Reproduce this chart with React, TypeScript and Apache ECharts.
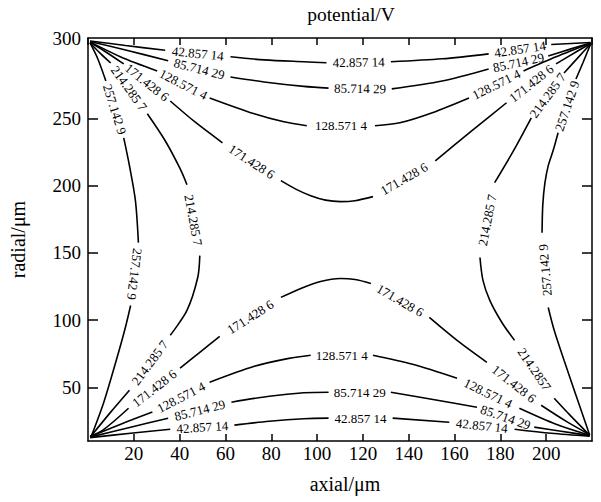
import React, { useEffect, useRef } from "react";
import * as echarts from "echarts";

// contour levels (V) and their printed labels
const LEVELS = [42.85714, 85.71429, 128.5714, 171.4286, 214.2857, 257.1429];
const LEVEL_LABELS = ["42.857 14", "85.714 29", "128.571 4", "171.428 6", "214.285 7", "257.142 9"];

// x tick labels / y tick labels
const X_TICKS = [20, 40, 60, 80, 100, 120, 140, 160, 180, 200];
const Y_TICKS = [50, 100, 150, 200, 250];

type P = [number, number] | null; // null = gap where a level label sits

const c043Top: P[] = [[0.9, 307.8], [16.4, 304.4], [33.7, 300.9], null, [62.2, 296.0], [76.9, 293.7], [94.2, 292.3], [104.1, 291.6], null, [132.2, 292.3], [154.6, 294.5], [174.9, 298.2], null, [202.2, 305.2], [219.4, 306.7]];
const c043Bottom: P[] = [[0.9, 12.5], [18.6, 15.8], [35.9, 18.8], null, [63.9, 21.8], [79.1, 24.7], [94.2, 26.6], [105.0, 27.0], null, [133.0, 27.0], [157.7, 24.0], null, [186.2, 18.8], [202.2, 15.8], [219.0, 13.6]];
const c086Top: P[] = [[0.9, 307.4], [16.4, 301.1], [35.0, 293.0], null, [62.2, 281.0], [76.9, 277.3], [94.2, 274.0], [105.0, 272.7], null, [132.6, 272.1], [154.6, 278.0], [174.9, 287.0], null, [200.9, 296.6], [210.8, 301.9], [219.4, 306.3]];
const c086Bottom: P[] = [[0.9, 12.9], [18.6, 20.3], [35.0, 27.0], null, [62.6, 38.9], [79.1, 43.3], [94.2, 45.9], [105.0, 46.3], null, [132.2, 46.3], [152.5, 40.3], [169.8, 35.1], null, [194.8, 20.3], [206.5, 17.3], [219.0, 14.0]];
const c129Top: P[] = [[0.9, 307.1], [14.3, 295.9], [30.2, 285.5], null, [53.1, 265.4], [72.6, 253.6], [85.5, 247.6], [95.5, 244.7], null, [125.3, 244.7], [136.1, 246.9], [150.3, 254.4], [166.3, 265.4], null, [190.1, 285.5], [204.3, 296.0], [219.4, 306.3]];
const c129Bottom: P[] = [[0.9, 13.2], [14.3, 22.5], [28.1, 31.5], null, [53.1, 53.7], [72.6, 65.6], [87.7, 71.5], [97.2, 73.8], null, [124.4, 73.8], [141.7, 67.1], [161.1, 56.7], null, [188.3, 34.4], [204.3, 22.5], [219.0, 14.3]];
const c171Top: P[] = [[0.9, 306.8], [7.8, 299.6], [15.6, 290.7], null, [35.9, 263.1], [46.7, 247.5], [58.7, 232.0], null, [84.2, 203.8], [90.7, 197.5], [97.2, 192.6], [103.7, 189.3], [110.2, 188.2], [116.6, 188.9], [124.4, 191.9], null, [151.6, 218.6], [167.6, 241.0], [182.7, 261.8], null, [204.3, 290.7], [213.0, 299.6], [219.4, 305.9]];
const c171Bottom: P[] = [[0.9, 13.6], [6.5, 18.1], [17.7, 34.4], null, [40.2, 64.2], [48.8, 76.0], [57.5, 87.9], null, [84.2, 116.9], [92.9, 123.6], [101.5, 128.8], [110.2, 131.0], [116.6, 130.2], [123.5, 127.3], null, [149.0, 102.0], [161.1, 84.9], [174.1, 68.6], null, [197.8, 36.6], [208.6, 24.8], [219.0, 14.7]];
const c214Left: P[] = [[0.9, 306.3], [5.6, 298.2], [9.9, 291.4], null, [25.9, 253.6], [33.7, 233.5], [40.2, 212.7], [43.2, 200.8], null, [48.8, 148.0], [47.9, 131.7], [43.2, 107.2], [35.9, 88.7], null, [18.1, 47.8], [9.9, 31.5], [1.3, 13.6]];
const c214Right: P[] = [[219.0, 14.3], [210.8, 28.5], [203.5, 41.8], null, [186.2, 84.9], [180.6, 98.4], [175.4, 114.7], [172.4, 129.6], [171.1, 146.6], null, [177.5, 202.3], [185.7, 226.0], [193.5, 250.6], null, [207.8, 284.0], [213.8, 295.2], [219.4, 305.6]];
const c257Left: P[] = [[0.9, 306.3], [4.3, 294.4], [7.8, 278.0], null, [15.6, 235.7], [18.1, 214.9], [20.7, 188.9], [22.0, 157.7], null, [18.6, 110.9], [16.0, 92.4], [12.1, 68.6], [6.9, 38.9], [1.3, 12.9]];
const c257Right: P[] = [[219.0, 14.3], [213.0, 44.1], [207.8, 70.1], [203.5, 92.4], [200.9, 109.4], null, [198.2, 165.1], [198.5, 185.2], [199.4, 201.6], [200.9, 215.0], [203.0, 226.0], [205.2, 239.5], null, [213.0, 279.5], [216.0, 291.4], [219.4, 305.6]];

// the one label printed without the digit-group space
const c214RightLabels = ["214.2857", "214.285 7", "214.285 7"];

const BRANCHES: { level: number; pts: P[]; labels?: string[] }[] = [
  { level: 0, pts: c043Top }, { level: 0, pts: c043Bottom },
  { level: 1, pts: c086Top }, { level: 1, pts: c086Bottom },
  { level: 2, pts: c129Top }, { level: 2, pts: c129Bottom },
  { level: 3, pts: c171Top }, { level: 3, pts: c171Bottom },
  { level: 4, pts: c214Left }, { level: 4, pts: c214Right, labels: c214RightLabels },
  { level: 5, pts: c257Left }, { level: 5, pts: c257Right },
];

const FONT = "'Liberation Serif', 'Times New Roman', serif";

export default function App() {
  const ref = useRef<HTMLDivElement>(null);
  useEffect(() => {
    const chart = echarts.init(ref.current!, null, { renderer: "svg" });
    const axisLine = { show: true, onZero: false, lineStyle: { color: "#000", width: 1.5 } };
    const tickStyle = { color: "#000", width: 1.5 };
    const series = BRANCHES.map((b) => ({
      type: "line",
      name: LEVEL_LABELS[b.level],
      xAxisIndex: 0,
      yAxisIndex: 0,
      data: b.pts.map((p) => (p ? p : ["-", "-"])),
      showSymbol: false,
      symbol: "none",
      connectNulls: false,
      smooth: 0.3,
      silent: true,
      lineStyle: { color: "#000", width: 1.6 },
    }));
    chart.setOption({
      animation: false,
      backgroundColor: "#fff",
      grid: { left: 82, right: 9, top: 38, bottom: 61 },
      xAxis: [
        {
          type: "value", min: 0, max: 220, interval: 20, position: "bottom",
          name: "axial/μm", nameLocation: "middle", nameGap: 33,
          nameTextStyle: { fontFamily: FONT, fontSize: 20, color: "#000", padding: [0, 0, 0, 10] },
          axisLine, axisTick: { inside: true, length: 7, lineStyle: tickStyle },
          axisLabel: {
            fontFamily: FONT, fontSize: 19, color: "#000", margin: 3,
            showMinLabel: false, showMaxLabel: false,
            formatter: (v: number) => (X_TICKS.includes(v) ? String(v) : ""),
          },
          splitLine: { show: false },
        },
        {
          type: "value", min: 0, max: 220, interval: 20, position: "top",
          axisLine, axisTick: { inside: true, length: 7, lineStyle: tickStyle },
          axisLabel: { show: false }, splitLine: { show: false },
        },
      ],
      yAxis: [
        {
          type: "value", min: 10, max: 310, position: "left",
          name: "radial/μm", nameLocation: "middle", nameGap: 60, nameRotate: 90,
          nameTextStyle: { fontFamily: FONT, fontSize: 20, color: "#000" },
          axisLine, axisTick: { inside: true, length: 10, lineStyle: tickStyle, customValues: Y_TICKS },
          axisLabel: {
            fontFamily: FONT, fontSize: 19, color: "#000", margin: 7,
            customValues: [...Y_TICKS, 310],
            formatter: (v: number) => (v >= 305 ? "300" : String(v)),
          },
          splitLine: { show: false },
        },
        {
          type: "value", min: 10, max: 310, position: "right",
          axisLine, axisTick: { inside: true, length: 10, lineStyle: tickStyle, customValues: Y_TICKS },
          axisLabel: { show: false }, splitLine: { show: false },
        },
      ],
      series,
    });

    const graphics: any[] = [
      {
        type: "text", x: 351, y: 14, silent: true,
        style: { text: "potential/V", fill: "#000", font: `19.5px ${FONT}`, align: "center", verticalAlign: "middle", textAlign: "center", textVerticalAlign: "middle" },
      },
    ];
    BRANCHES.forEach((b) => {
      let g = 0;
      for (let i = 1; i < b.pts.length - 1; i++) {
        if (b.pts[i] !== null) continue;
        const a = chart.convertToPixel({ seriesIndex: 0 }, b.pts[i - 1] as number[]) as number[];
        const c = chart.convertToPixel({ seriesIndex: 0 }, b.pts[i + 1] as number[]) as number[];
        let th = Math.atan2(c[1] - a[1], c[0] - a[0]);
        const deg = (th * 180) / Math.PI;
        if (deg > 100 || deg < -100) th += Math.PI;
        const text = b.labels ? b.labels[g] : LEVEL_LABELS[b.level];
        g++;
        graphics.push({
          type: "text",
          x: (a[0] + c[0]) / 2,
          y: (a[1] + c[1]) / 2,
          rotation: -th,
          silent: true,
          style: { text, fill: "#000", font: `13px ${FONT}`, align: "center", verticalAlign: "middle", textAlign: "center", textVerticalAlign: "middle" },
        });
      }
    });
    chart.setOption({ graphic: graphics });
    return () => chart.dispose();
  }, []);
  return <div ref={ref} style={{ position: "fixed", left: 0, top: 0, width: 601, height: 502, background: "#fff" }} />;
}
